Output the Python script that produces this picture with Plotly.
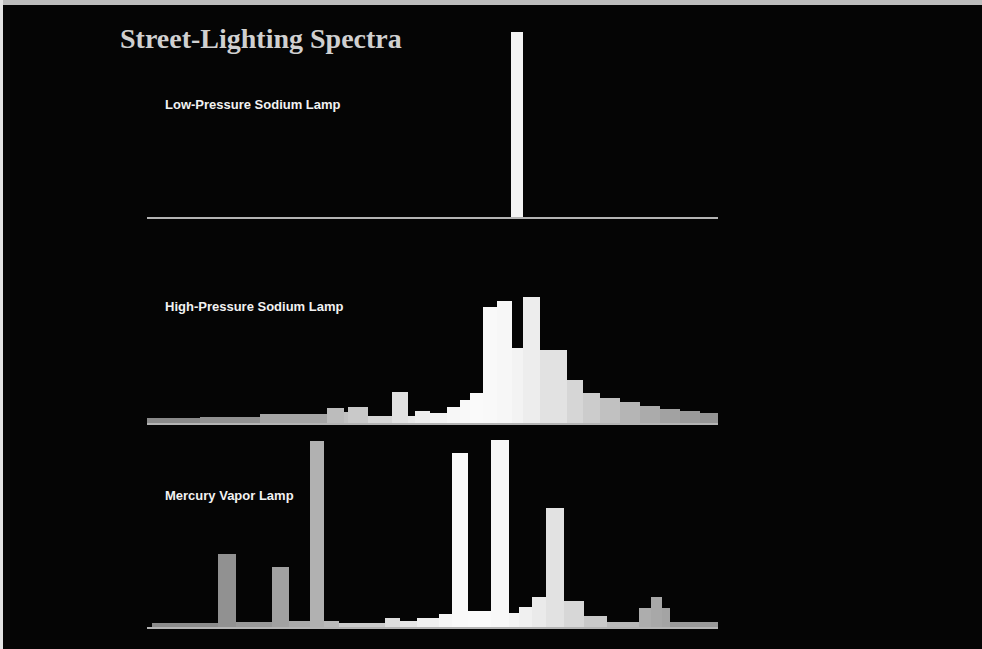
import numpy as np
import plotly.graph_objects as go

# band edges (nm) and relative intensity
lps_edges = [582, 588]
lps_intensity = [97.4]

hps_edges = [400, 426.5, 456.5, 490, 498.5, 500.5, 510.5, 522.5, 530.5, 534, 541.5,
             550, 556.5, 561.5, 568, 575, 582.5, 588, 596.5, 610, 618, 626.5,
             636.5, 646.5, 656.5, 666.5, 676.5, 685.5]
hps_intensity = [2.6, 3.4, 4.7, 7.9, 5.8, 8.4, 3.7, 16.3, 3.7, 6.3, 5.3, 8.4, 12.1,
                 15.8, 61.1, 64.2, 39.5, 66.3, 38.4, 22.6, 15.8, 13.2, 11.1, 8.9,
                 7.4, 6.3, 5.3]

mv_edges = [402.5, 435.5, 444.5, 462.5, 471, 481.5, 488.5, 496, 519, 526.5, 535,
            546, 552.5, 560.5, 572, 581, 586, 592.5, 599.5, 608.5, 618.5, 630,
            646, 652, 657.5, 661.5, 685.5]
mv_intensity = [2.1, 38.4, 2.6, 31.6, 3.2, 98, 3.2, 2.1, 4.7, 3.2, 4.7, 6.8, 91.6,
                8.4, 98.5, 7.4, 10.5, 15.8, 62.6, 13.7, 5.8, 2.6, 10, 15.8, 10, 2.6]

lamp_names = ["Low-Pressure Sodium Lamp", "High-Pressure Sodium Lamp", "Mercury Vapor Lamp"]
title = "Street-Lighting Spectra"

W, H = 982, 649
X_RANGE = [400, 685.5]


def grey(wl):
    # brighter toward the middle of the visible band, like on the slide
    g = 0.53 + 0.45 * np.exp(-((wl - 565) / 80.0) ** 2)
    v = min(255, int(round(255 * g)))
    return f"rgb({v},{v},{v})"


def band_bars(edges, vals, n):
    lo = np.array(edges[:-1], dtype=float)
    hi = np.array(edges[1:], dtype=float)
    mid = (lo + hi) / 2
    return go.Bar(
        x=mid, y=vals, width=hi - lo,
        marker=dict(color=[grey(m) for m in mid], line=dict(width=0)),
        xaxis="x" if n == 1 else f"x{n}",
        yaxis="y" if n == 1 else f"y{n}",
        showlegend=False, hoverinfo="skip",
    )


fig = go.Figure()
fig.add_trace(band_bars(lps_edges, lps_intensity, 1))
fig.add_trace(band_bars(hps_edges, hps_intensity, 2))
fig.add_trace(band_bars(mv_edges, mv_intensity, 3))

# panel bottoms / tops in pixels from the top of the slide
panels = [(217, 27), (423, 233), (627, 437)]
xdom = [147 / W, 718 / W]

layout = dict(
    width=W, height=H,
    margin=dict(l=0, r=0, t=0, b=0),
    paper_bgcolor="#050505", plot_bgcolor="rgba(0,0,0,0)",
    bargap=0,
)
for i, (bot, top) in enumerate(panels, start=1):
    sfx = "" if i == 1 else str(i)
    layout["xaxis" + sfx] = dict(
        domain=xdom, range=X_RANGE, anchor="y" + sfx,
        showgrid=False, zeroline=False, showticklabels=False, ticks="",
        showline=True, linecolor="#b4b4b4", linewidth=2,
    )
    layout["yaxis" + sfx] = dict(
        domain=[1 - bot / H, 1 - top / H], range=[0, 100], anchor="x" + sfx,
        visible=False,
    )
fig.update_layout(**layout)

fig.add_annotation(
    text=title, xref="paper", yref="paper", x=118 / W, y=1 - 38 / H,
    xanchor="left", yanchor="middle", showarrow=False,
    font=dict(family="Liberation Serif", size=28, color="#d0d0d0", weight="bold"),
)
label_y = [104, 306, 495]
for name, ly in zip(lamp_names, label_y):
    fig.add_annotation(
        text=name, xref="paper", yref="paper", x=163 / W, y=1 - ly / H,
        xanchor="left", yanchor="middle", showarrow=False,
        font=dict(family="Liberation Sans", size=13, color="#f2f2f2", weight="bold"),
    )

# light frame along the top and left edge of the scanned slide
fig.add_shape(type="rect", xref="paper", yref="paper", x0=0, x1=1, y0=1 - 5 / H, y1=1,
              fillcolor="#bdbdbd", line=dict(width=0), layer="above")
fig.add_shape(type="rect", xref="paper", yref="paper", x0=0, x1=3 / W, y0=0, y1=1,
              fillcolor="#e4e4e4", line=dict(width=0), layer="above")

# drop the page's default body margin so the figure fills the window
fig.write_html("out.html", config={"displayModeBar": False},
               post_script="document.body.style.margin='0';")
